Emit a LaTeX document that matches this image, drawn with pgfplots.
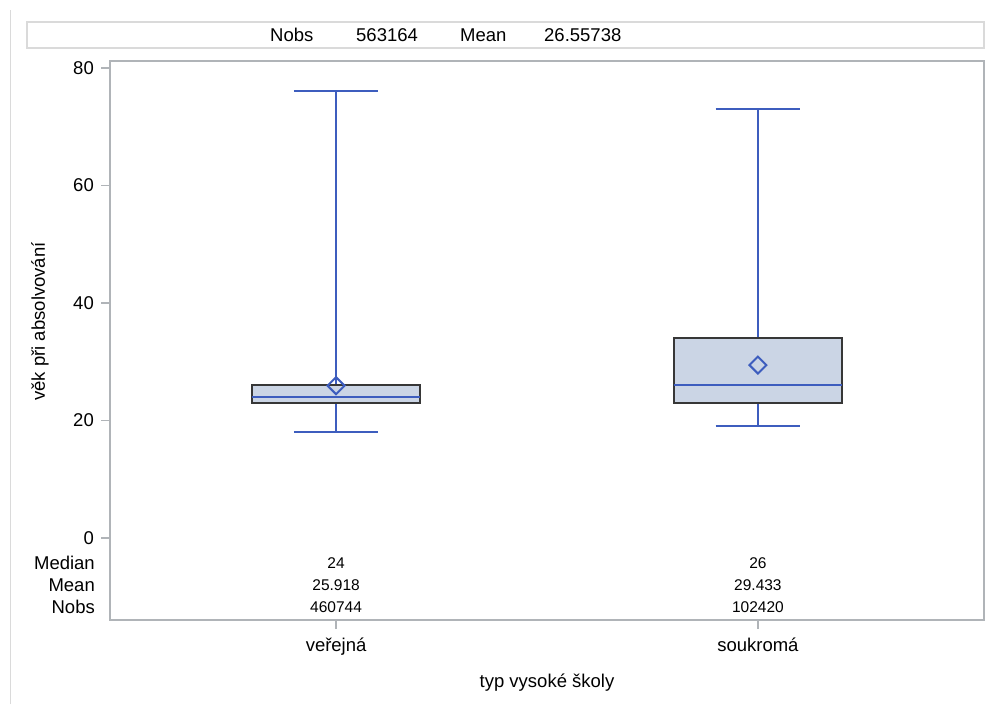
\documentclass[border=0pt]{standalone}
\usepackage{fontspec}
\setmainfont{Liberation Sans}
\usepackage{pgfplots}
\pgfplotsset{compat=1.18}
\definecolor{boxfill}{RGB}{203,213,229}
\definecolor{boxline}{RGB}{61,93,190}
\definecolor{boxedge}{RGB}{55,55,55}
\definecolor{framegray}{RGB}{176,180,184}
\definecolor{hdrgray}{RGB}{218,218,218}
\newcommand{\lab}{\fontsize{18.5}{21}\selectfont}
\newcommand{\val}{\fontsize{15.5}{18}\selectfont}
\begin{document}
\begin{tikzpicture}
\useasboundingbox (0pt,0pt) rectangle (985pt,704pt);
\draw[hdrgray, line width=1pt] (10pt,0pt) -- (10pt,694pt);
\draw[hdrgray, line width=1.5pt, fill=white] (27pt,656pt) rectangle (984pt,682pt);
\node[font=\lab, anchor=west, inner sep=0pt] at (270pt,669pt) {Nobs};
\node[font=\lab, anchor=west, inner sep=0pt] at (356pt,669pt) {563164};
\node[font=\lab, anchor=west, inner sep=0pt] at (460pt,669pt) {Mean};
\node[font=\lab, anchor=west, inner sep=0pt] at (544pt,669pt) {26.55738};
\begin{axis}[
  at={(110pt,84pt)}, anchor=south west,
  width=874pt, height=559pt, scale only axis,
  xmin=-0.536, xmax=1.536, ymin=-13.96, ymax=81.19,
  xtick={0,1}, xticklabels={veřejná, soukromá},
  ytick={0,20,40,60,80},
  /pgf/number format/assume math mode=true,
  tick align=outside, tick pos=left,
  major tick length=9pt,
  tick style={framegray, line width=1.5pt},
  axis line style={framegray, line width=1.5pt},
  ticklabel style={font=\lab},
  yticklabel style={inner sep=0pt, xshift=-7pt},
  xticklabel style={anchor=north, inner sep=0pt, yshift=-9pt},
  xlabel={typ vysoké školy},
  ylabel={věk při absolvování},
  label style={font=\lab},
  xlabel style={at={(axis description cs:0.5,-0.1127)}, anchor=center},
  ylabel style={at={(axis description cs:-0.0801,0.534)}, anchor=center},
  clip=false,
]
% veřejná: whiskers
\addplot[draw=boxline, line width=2pt] coordinates {(0,18) (0,23)};
\addplot[draw=boxline, line width=2pt] coordinates {(0,26) (0,76)};
\addplot[draw=boxline, line width=2pt] coordinates {(-0.1,18) (0.1,18)};
\addplot[draw=boxline, line width=2pt] coordinates {(-0.1,76) (0.1,76)};
% veřejná: box
\addplot[draw=boxedge, fill=boxfill, line width=2pt] coordinates {(-0.2,23) (0.2,23) (0.2,26) (-0.2,26)} -- cycle;
\addplot[draw=boxline, line width=2pt] coordinates {(-0.2,24) (0.2,24)};
\addplot[only marks, mark=square, mark size=6pt, mark options={rotate=45, draw=boxline, fill=none, line width=2pt}] coordinates {(0,25.918)};
% soukromá: whiskers
\addplot[draw=boxline, line width=2pt] coordinates {(1,19) (1,23)};
\addplot[draw=boxline, line width=2pt] coordinates {(1,34) (1,73)};
\addplot[draw=boxline, line width=2pt] coordinates {(0.9,19) (1.1,19)};
\addplot[draw=boxline, line width=2pt] coordinates {(0.9,73) (1.1,73)};
% soukromá: box
\addplot[draw=boxedge, fill=boxfill, line width=2pt] coordinates {(0.8,23) (1.2,23) (1.2,34) (0.8,34)} -- cycle;
\addplot[draw=boxline, line width=2pt] coordinates {(0.8,26) (1.2,26)};
\addplot[only marks, mark=square, mark size=6pt, mark options={rotate=45, draw=boxline, fill=none, line width=2pt}] coordinates {(1,29.433)};
% statistics table
\node[font=\val] at (axis cs:0,-4.26) {24};
\node[font=\val] at (axis cs:1,-4.26) {26};
\node[font=\val] at (axis cs:0,-8.0) {25.918};
\node[font=\val] at (axis cs:1,-8.0) {29.433};
\node[font=\val] at (axis cs:0,-11.74) {460744};
\node[font=\val] at (axis cs:1,-11.74) {102420};
\node[font=\lab, anchor=east, inner sep=0pt, xshift=-15pt] at (axis cs:-0.536,-4.26) {Median};
\node[font=\lab, anchor=east, inner sep=0pt, xshift=-15pt] at (axis cs:-0.536,-8.0) {Mean};
\node[font=\lab, anchor=east, inner sep=0pt, xshift=-15pt] at (axis cs:-0.536,-11.74) {Nobs};
\end{axis}
\end{tikzpicture}
\end{document}
